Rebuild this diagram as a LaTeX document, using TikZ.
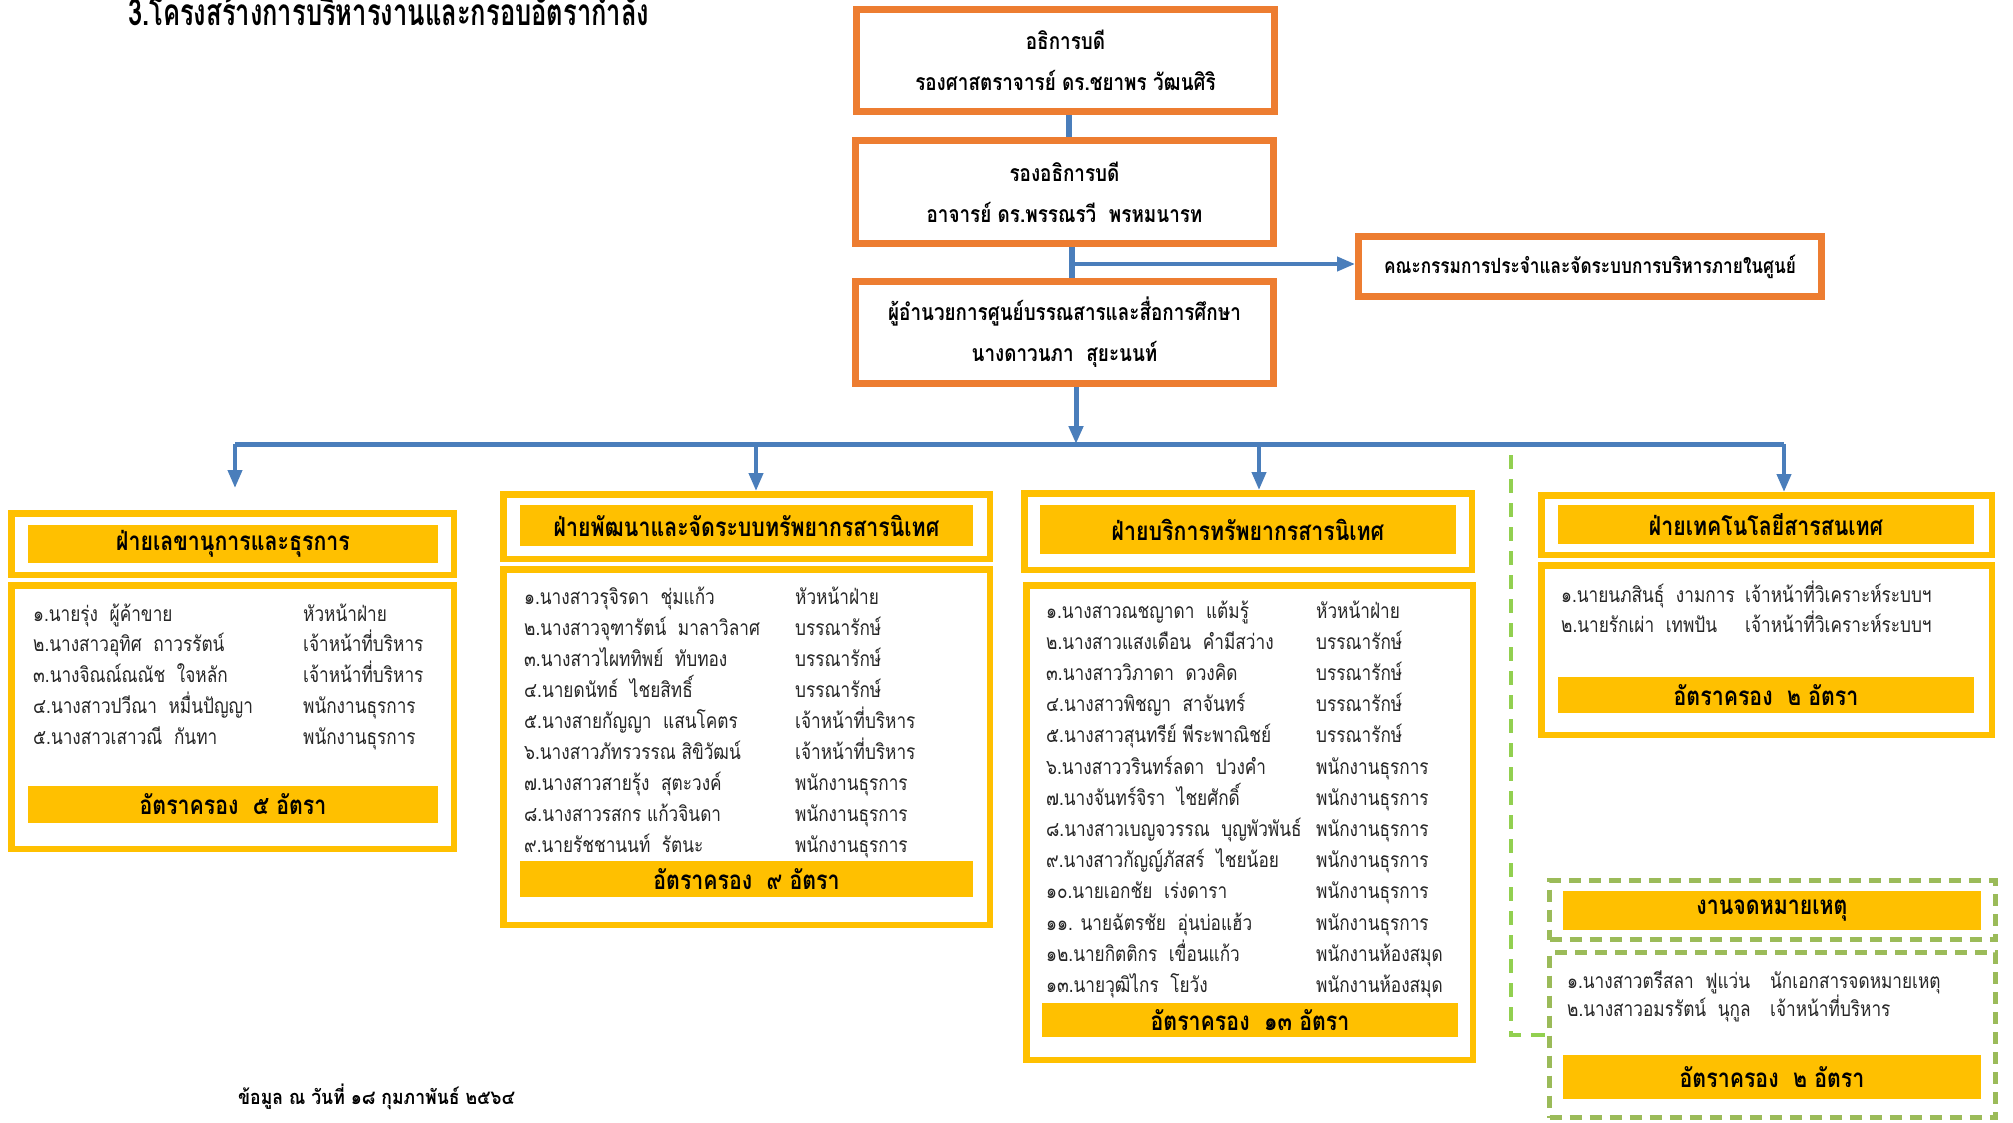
\documentclass[tikz,border=0pt]{standalone}
\usepackage{fontspec}
\setmainfont[Script=Thai,FakeStretch=0.82]{Loma}
\newfontfamily\headingfont[Script=Thai,FakeStretch=0.69]{Loma}
\newfontfamily\notefont[Script=Thai,FakeStretch=0.88]{Loma}
\usetikzlibrary{arrows.meta}
\definecolor{boxorange}{HTML}{ED7D31}
\definecolor{gold}{HTML}{FFC000}
\definecolor{linkblue}{HTML}{4A7EBB}
\definecolor{dashgreen}{HTML}{9BBB59}
\definecolor{linkgreen}{HTML}{92D050}
\definecolor{bodytext}{HTML}{262626}

\begin{document}
\begin{tikzpicture}[x=1pt,y=-1pt,
  execbox/.style={draw=boxorange, line width=7pt, fill=white, inner sep=0pt,
    align=center, font=\fontsize{23}{41}\selectfont\bfseries},
  frame/.style={draw=gold, line width=6.5pt, fill=white, inner sep=0pt},
  dashframe/.style={draw=dashgreen, line width=5pt, dash pattern=on 12pt off 8pt,
    fill=white, inner sep=0pt},
  bar/.style={fill=gold, inner sep=0pt, font=\fontsize{26}{30}\selectfont\bfseries},
  staff/.style={anchor=base west, inner sep=0pt, text=bodytext,
    font=\fontsize{21}{24}\selectfont},
  link/.style={draw=linkblue, line width=5pt},
  branch/.style={draw=linkblue, line width=4pt,
    -{Triangle[width=14pt,length=18pt]}},
  greenlink/.style={draw=linkgreen, line width=4pt, dash pattern=on 14pt off 10pt},
]
\useasboundingbox[fill=white] (0,0) rectangle (2013,1122);

% heading
\node[anchor=base west, inner sep=0pt, font=\headingfont\fontsize{37}{40}\selectfont\bfseries]
  (title) at (128,25) {3.โครงสร้างการบริหารงานและกรอบอัตรากำลัง};

% executive chain
\node[execbox, minimum width=418pt, minimum height=102pt] (pres) at (1065.5,60.5)
  {อธิการบดี\\รองศาสตราจารย์ ดร.ชยาพร วัฒนศิริ};
\node[execbox, minimum width=418pt, minimum height=103pt] (vp) at (1064.5,192)
  {รองอธิการบดี\\อาจารย์ ดร.พรรณรวี~~พรหมนารท};
\node[execbox, minimum width=418pt, minimum height=102pt] (dir) at (1064.5,332.5)
  {ผู้อำนวยการศูนย์บรรณสารและสื่อการศึกษา\\นางดาวนภา~~สุยะนนท์};
\node[execbox, minimum width=463pt, minimum height=60pt,
  font=\fontsize{21}{24}\selectfont\bfseries] (comm) at (1590,266.5)
  {คณะกรรมการประจำและจัดระบบการบริหารภายในศูนย์};

\coordinate (j1a) at (1069,115);
\coordinate (j1b) at (1069,137);
\coordinate (j2a) at (1072,247);
\coordinate (j2b) at (1072,278);
\coordinate (j2c) at (1072,264);
\draw[link, line width=6pt] (j1a) -- (j1b);
\draw[link, line width=6pt] (j2a) -- (j2b);
\draw[branch] (j2c) -- (j2c -| comm.west);

% distribution bus
\coordinate (hub) at (1076,444);
\coordinate (busL) at (235,444);
\coordinate (busR) at (1784,444);
\coordinate (tapB) at (756,444);
\coordinate (tapC) at (1259,444);
\draw[branch, line width=5pt] (dir.south -| hub) -- (hub);
\draw[link] (busL) -- (busR);

% ---------- secretariat and general affairs ----------
\node[frame, minimum width=442.5pt, minimum height=61.5pt] (ahead) at (232.5,544) {};
\node[frame, minimum width=442.5pt, minimum height=263.5pt] (abody) at (232.5,717) {};
\node[bar, minimum width=410pt, minimum height=38pt] (abar) at (233,544) {ฝ่ายเลขานุการและธุรการ};
\node[bar, minimum width=410pt, minimum height=37pt] (aquota) at (233,804.5) {อัตราครอง~~๕ อัตรา};
\foreach \nm/\ps [count=\i] in {
  ๑.นายรุ่ง~~ผู้ค้าขาย/หัวหน้าฝ่าย,
  ๒.นางสาวอุทิศ~~ถาวรรัตน์/เจ้าหน้าที่บริหาร,
  ๓.นางจิณณ์ณณัช~~ใจหลัก/เจ้าหน้าที่บริหาร,
  ๔.นางสาวปวีณา~~หมื่นปัญญา/พนักงานธุรการ,
  ๕.นางสาวเสาวณี~~กันทา/พนักงานธุรการ}{
  \node[staff] (an\i) at (33,{621+30.75*(\i-1)}) {\nm};
  \node[staff] (ap\i) at (303,{621+30.75*(\i-1)}) {\ps};
}

% ---------- development and information resources ----------
\node[frame, minimum width=486.5pt, minimum height=64.5pt] (bhead) at (746.5,526.5) {};
\node[frame, minimum width=486.5pt, minimum height=355.5pt] (bbody) at (746.5,747) {};
\node[bar, minimum width=453pt, minimum height=41pt] (bbar) at (746.5,525.5) {ฝ่ายพัฒนาและจัดระบบทรัพยากรสารนิเทศ};
\node[bar, minimum width=453pt, minimum height=36pt] (bquota) at (746.5,879) {อัตราครอง~~๙ อัตรา};
\foreach \nm/\ps [count=\i] in {
  ๑.นางสาวรุจิรดา~~ชุ่มแก้ว/หัวหน้าฝ่าย,
  ๒.นางสาวจุฑารัตน์~~มาลาวิลาศ/บรรณารักษ์,
  ๓.นางสาวไผททิพย์~~ทับทอง/บรรณารักษ์,
  ๔.นายดนัทธ์~~ไชยสิทธิ์/บรรณารักษ์,
  ๕.นางสายกัญญา~~แสนโคตร/เจ้าหน้าที่บริหาร,
  ๖.นางสาวภัทรวรรณ สิขิวัฒน์/เจ้าหน้าที่บริหาร,
  ๗.นางสาวสายรุ้ง~~สุตะวงค์/พนักงานธุรการ,
  ๘.นางสาวรสกร แก้วจินดา/พนักงานธุรการ,
  ๙.นายรัชชานนท์~~รัตนะ/พนักงานธุรการ}{
  \node[staff] (bn\i) at (524,{604+31*(\i-1)}) {\nm};
  \node[staff] (bp\i) at (795,{604+31*(\i-1)}) {\ps};
}

% ---------- information resource services ----------
\node[frame, minimum width=447.5pt, minimum height=76.5pt] (chead) at (1248,531.5) {};
\node[frame, minimum width=446.5pt, minimum height=474.5pt] (cbody) at (1249.5,822.5) {};
\node[bar, minimum width=416pt, minimum height=49pt] (cbar) at (1248,529.5) {ฝ่ายบริการทรัพยากรสารนิเทศ};
\node[bar, minimum width=416pt, minimum height=34pt] (cquota) at (1250,1020) {อัตราครอง~~๑๓ อัตรา};
\foreach \nm/\ps [count=\i] in {
  ๑.นางสาวณชญาดา~~แต้มรู้/หัวหน้าฝ่าย,
  ๒.นางสาวแสงเดือน~~คำมีสว่าง/บรรณารักษ์,
  ๓.นางสาววิภาดา~~ดวงคิด/บรรณารักษ์,
  ๔.นางสาวพิชญา~~สาจันทร์/บรรณารักษ์,
  ๕.นางสาวสุนทรีย์ พีระพาณิชย์/บรรณารักษ์,
  ๖.นางสาววรินทร์ลดา~~ปวงคำ/พนักงานธุรการ,
  ๗.นางจันทร์จิรา~~ไชยศักดิ์/พนักงานธุรการ,
  ๘.นางสาวเบญจวรรณ~~บุญพัวพันธ์/พนักงานธุรการ,
  ๙.นางสาวกัญญ์ภัสสร์~~ไชยน้อย/พนักงานธุรการ,
  ๑๐.นายเอกชัย~~เร่งดารา/พนักงานธุรการ,
  ๑๑. นายฉัตรชัย~~อุ่นบ่อแฮ้ว/พนักงานธุรการ,
  ๑๒.นายกิตติกร~~เขื่อนแก้ว/พนักงานห้องสมุด,
  ๑๓.นายวุฒิไกร~~โยวัง/พนักงานห้องสมุด}{
  \node[staff] (cn\i) at (1046,{618+31.2*(\i-1)}) {\nm};
  \node[staff] (cp\i) at (1316,{618+31.2*(\i-1)}) {\ps};
}

% ---------- information technology ----------
\node[frame, minimum width=450.5pt, minimum height=59.5pt] (dhead) at (1766.5,525) {};
\node[frame, minimum width=450.5pt, minimum height=169.5pt] (dbody) at (1766.5,650) {};
\node[bar, minimum width=416pt, minimum height=39pt] (dbar) at (1766,524.5) {ฝ่ายเทคโนโลยีสารสนเทศ};
\node[bar, minimum width=416pt, minimum height=36pt] (dquota) at (1766,695) {อัตราครอง~~๒ อัตรา};
\foreach \nm/\ps [count=\i] in {
  ๑.นายนภสินธุ์~~งามการ/เจ้าหน้าที่วิเคราะห์ระบบฯ,
  ๒.นายรักเผ่า~~เทพปัน/เจ้าหน้าที่วิเคราะห์ระบบฯ}{
  \node[staff] (dn\i) at (1561,{602+30*(\i-1)}) {\nm};
  \node[staff] (dp\i) at (1745,{602+30*(\i-1)}) {\ps};
}

% ---------- archives ----------
\node[dashframe, minimum width=446pt, minimum height=59pt] (ehead) at (1772.5,910) {};
\node[dashframe, minimum width=446pt, minimum height=165pt] (ebody) at (1772.5,1035) {};
\node[bar, minimum width=418pt, minimum height=39pt] (ebar) at (1772,910.5) {งานจดหมายเหตุ};
\node[bar, minimum width=418pt, minimum height=44pt] (equota) at (1772,1077) {อัตราครอง~~๒ อัตรา};
\foreach \nm/\ps [count=\i] in {
  ๑.นางสาวตรีสลา~~ฟูแว่น/นักเอกสารจดหมายเหตุ,
  ๒.นางสาวอมรรัตน์~~นุกูล/เจ้าหน้าที่บริหาร}{
  \node[staff] (en\i) at (1567,{988+28*(\i-1)}) {\nm};
  \node[staff] (ep\i) at (1770,{988+28*(\i-1)}) {\ps};
}

% branches from the bus
\coordinate (tipA) at (235,488);
\draw[branch] (busL) -- (tipA);
\draw[branch] (tapB) -- (tapB |- bhead.north);
\draw[branch] (tapC) -- (tapC |- chead.north);
\draw[branch] (busR) -- (busR |- dhead.north);

% dashed link to the archives unit
\coordinate (gtop) at (1511,455);
\draw[greenlink] (gtop) |- (ebody.west);

% data note
\node[anchor=base west, inner sep=0pt, font=\notefont\fontsize{20}{24}\selectfont\bfseries]
  (note) at (238,1104) {ข้อมูล ณ วันที่ ๑๘ กุมภาพันธ์ ๒๕๖๔};
\end{tikzpicture}
\end{document}
